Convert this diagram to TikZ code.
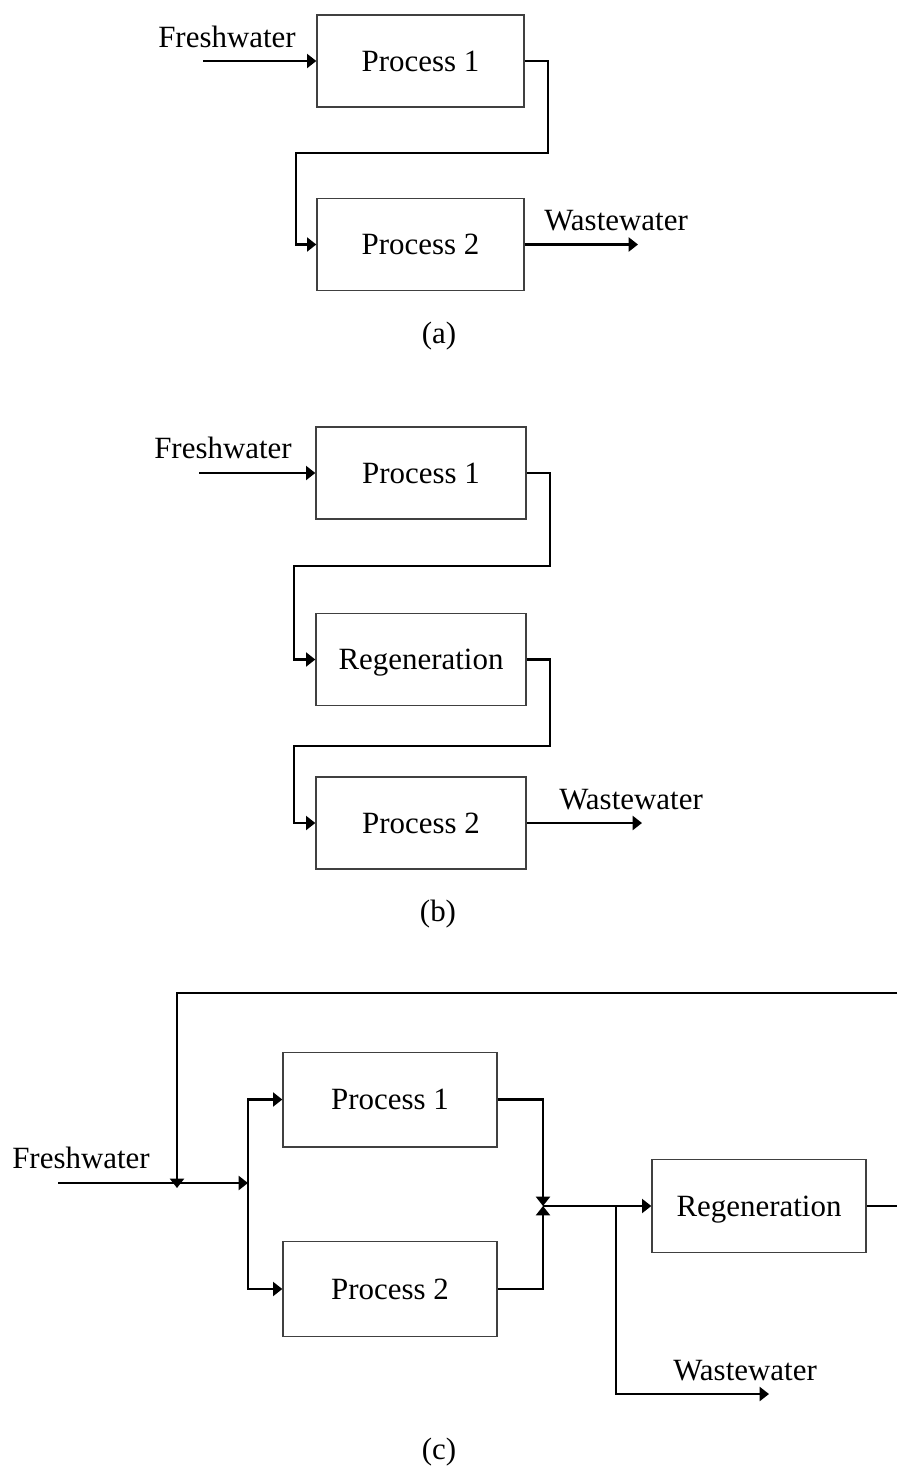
\documentclass[tikz,border=0pt]{standalone}
\usepackage{fontspec}
\setmainfont{Liberation Serif}
\usetikzlibrary{arrows.meta}

\begin{document}
\begin{tikzpicture}[
  x=0.75pt, y=-0.75pt,
  txt/.style={inner sep=0pt, font=\fontsize{23.2}{27}\selectfont},
  unit/.style={draw=black!75, line width=1pt, inner sep=0pt,
    text height=15.4pt, text depth=0pt, font=\fontsize{23.2}{27}\selectfont},
  unitA/.style={unit, minimum width=155.25pt, minimum height=69pt},
  unitB/.style={unit, minimum width=157.5pt, minimum height=69pt},
  unitC/.style={unit, minimum width=160.5pt, minimum height=71pt},
  pipe/.style={draw=black, line width=1.6pt},
  flow/.style={pipe, -{Triangle[length=7pt,width=10.5pt]}},
]
\useasboundingbox (0,0) rectangle (897,1468);

% ---------- (a) direct reuse ----------
\node[txt, anchor=base west] (fwa) at (158,47) {Freshwater};
\node[unitA] (p1a) at (420.5,61) {Process 1};
\node[unitA] (p2a) at (420.5,244.5) {Process 2};
\node[txt, anchor=base west] (wwa) at (544,230) {Wastewater};
\node[txt] (capa) at (439,336) {(a)};
\coordinate (fwa-in) at (203,61);
\coordinate (wwa-out) at (638,244.5);
\draw[flow] (fwa-in) -- (p1a.west);
\draw[flow] (p1a.east) -- ++(23,0) -- ++(0,92) -- ++(-252,0) |- (p2a.west);
\draw[flow] (p2a.east) -- (wwa-out);

% ---------- (b) regeneration reuse ----------
\node[txt, anchor=base west] (fwb) at (154,458.5) {Freshwater};
\node[unitB] (p1b) at (421,473) {Process 1};
\node[unitB] (rb) at (421,659.5) {Regeneration};
\node[unitB] (p2b) at (421,823) {Process 2};
\node[txt, anchor=base west] (wwb) at (559,809) {Wastewater};
\node[txt] (capb) at (438,914) {(b)};
\coordinate (fwb-in) at (199,473);
\coordinate (wwb-out) at (642,823);
\draw[flow] (fwb-in) -- (p1b.west);
\draw[flow] (p1b.east) -- ++(23,0) -- ++(0,93) -- ++(-256,0) |- (rb.west);
\draw[flow] (rb.east) -- ++(23,0) -- ++(0,86.5) -- ++(-256,0) |- (p2b.west);
\draw[flow] (p2b.east) -- (wwb-out);

% ---------- (c) regeneration recycling ----------
\node[txt, anchor=base west] (fwc) at (12,1168) {Freshwater};
\node[unitC] (p1c) at (390,1099.5) {Process 1};
\node[unitC] (p2c) at (390,1289) {Process 2};
\node[unitC, minimum height=70pt] (rc) at (759,1206) {Regeneration};
\node[txt, anchor=base west] (wwc) at (673,1380) {Wastewater};
\node[txt] (capc) at (439,1452) {(c)};
\coordinate (fwc-in) at (58,1183);
\coordinate (jc) at (177,1188);
\coordinate (splitc) at (248,1183);
\coordinate (mix) at (543,1206);
\coordinate (wbranch) at (616,1206);
\coordinate (wwc-out) at (769,1394);
\coordinate (rc-cut) at (897,1206);
\coordinate (top-cut) at (897,993);

\draw[flow] (fwc-in) -- (splitc);
\draw[flow] (splitc) |- (p1c.west);
\draw[flow] (splitc) |- (p2c.west);
\draw[flow] (p1c.east) -| (mix);
\draw[flow] (p2c.east) -| (mix);
\draw[flow] (mix) -- (rc.west);
\draw[flow] (wbranch) |- (wwc-out);
\draw[pipe] (rc.east) -- (rc-cut);
\draw[flow] (top-cut) -| (jc);
\end{tikzpicture}
\end{document}
